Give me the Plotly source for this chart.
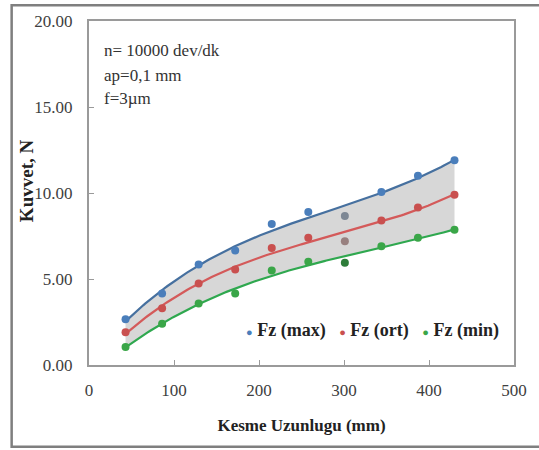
import numpy as np
import plotly.graph_objects as go

# Data
kesme_uzunlugu = [43, 86, 129, 172, 215, 258, 301, 344, 387, 430]
fz_max = [2.66, 4.15, 5.84, 6.65, 8.2, 8.9, 8.67, 10.06, 11.0, 11.9]
fz_ort = [1.9, 3.3, 4.74, 5.55, 6.8, 7.4, 7.2, 8.4, 9.15, 9.9]
fz_min = [1.04, 2.4, 3.58, 4.16, 5.5, 6.0, 5.95, 6.9, 7.4, 7.86]

names = ["Fz (max)", "Fz (ort)", "Fz (min)"]
marker_colors = ["#4a7ebb", "#c9504f", "#3aa648"]
odd_point_colors = ["#7d8794", "#98807f", "#2e7d3a"]  # the 300 mm points look greyish
line_colors = ["#46709f", "#d45a5a", "#2fa84f"]

x = np.array(kesme_uzunlugu, dtype=float)


def poly_fit(xs, ys, deg=3):
    coef = np.polyfit(xs, ys, deg)
    xf = np.linspace(xs.min(), xs.max(), 150)
    return xf, np.polyval(coef, xf)


fig = go.Figure()

xf, ymax_fit = poly_fit(x, np.array(fz_max))
_, yort_fit = poly_fit(x, np.array(fz_ort))
_, ymin_fit = poly_fit(x, np.array(fz_min))

# shaded band between min and max trendlines
fig.add_trace(go.Scatter(x=xf, y=ymin_fit, mode="lines", line=dict(width=0),
                         showlegend=False, hoverinfo="skip"))
fig.add_trace(go.Scatter(x=xf, y=ymax_fit, mode="lines", line=dict(width=0),
                         fill="tonexty", fillcolor="rgba(205,205,205,0.8)",
                         showlegend=False, hoverinfo="skip"))

for fit, col in zip([ymax_fit, yort_fit, ymin_fit], line_colors):
    fig.add_trace(go.Scatter(x=xf, y=fit, mode="lines",
                             line=dict(color=col, width=2.2),
                             showlegend=False, hoverinfo="skip"))

for name, vals, col, oc in zip(names, [fz_max, fz_ort, fz_min], marker_colors, odd_point_colors):
    cols = [oc if xv == 301 else col for xv in kesme_uzunlugu]
    fig.add_trace(go.Scatter(x=kesme_uzunlugu, y=vals, mode="markers", name=name,
                             marker=dict(color=cols, size=8), showlegend=False))

serif = "Liberation Serif, Times New Roman, serif"

legend_text = "&nbsp;&nbsp;&nbsp;".join(
    f"<span style='color:{c};font-size:11px'>●</span> <b>{n}</b>"
    for n, c in zip(names, marker_colors))

fig.update_layout(
    width=539, height=450,
    margin=dict(l=89, r=16, t=20, b=85),
    paper_bgcolor="white", plot_bgcolor="white",
    font=dict(family=serif, size=17, color="#404040"),
    showlegend=False,
    xaxis=dict(range=[0, 500], tickvals=[0, 100, 200, 300, 400, 500],
               showgrid=False, zeroline=False, showline=True, mirror=True,
               linecolor="#9a9a9a", linewidth=2, ticks="inside", ticklen=5,
               tickcolor="#9a9a9a", ticklabelstandoff=9,
               tickfont=dict(family=serif, size=17, color="#404040"),
               title=dict(text="<b>Kesme Uzunlugu (mm)</b>",
                          font=dict(family=serif, size=17, color="#222222"),
                          standoff=20)),
    yaxis=dict(range=[0, 20], tickvals=[0, 5, 10, 15, 20], tickformat=".2f",
               showgrid=False, zeroline=False, showline=True, mirror=True,
               linecolor="#9a9a9a", linewidth=2, ticks="inside", ticklen=5,
               tickcolor="#9a9a9a", ticklabelstandoff=11,
               tickfont=dict(family=serif, size=17, color="#404040")),
    shapes=[dict(type="rect", xref="paper", yref="paper",
                 x0=-0.182, x1=1.12, y0=-0.238, y1=1.046,
                 line=dict(color="#7f7f7f", width=2.5))],
    annotations=[
        dict(xref="paper", yref="paper", x=-0.147, y=0.536, textangle=-90,
             xanchor="center", yanchor="middle", showarrow=False,
             text="<b>Kuvvet, N</b>",
             font=dict(family=serif, size=19, color="#222222")),
        dict(xref="paper", yref="paper", x=0.03, y=0.913, xanchor="left", yanchor="middle",
             showarrow=False, text="n= 10000 dev/dk",
             font=dict(family=serif, size=17, color="#333333")),
        dict(xref="paper", yref="paper", x=0.03, y=0.841, xanchor="left", yanchor="middle",
             showarrow=False, text="ap=0,1 mm",
             font=dict(family=serif, size=17, color="#333333")),
        dict(xref="paper", yref="paper", x=0.03, y=0.774, xanchor="left", yanchor="middle",
             showarrow=False, text="f=3µm",
             font=dict(family=serif, size=17, color="#333333")),
        dict(xref="paper", yref="paper", x=0.364, y=0.101, xanchor="left", yanchor="middle",
             showarrow=False, text=legend_text,
             font=dict(family=serif, size=18, color="#222222")),
    ],
)

fig.write_html("out.html")
